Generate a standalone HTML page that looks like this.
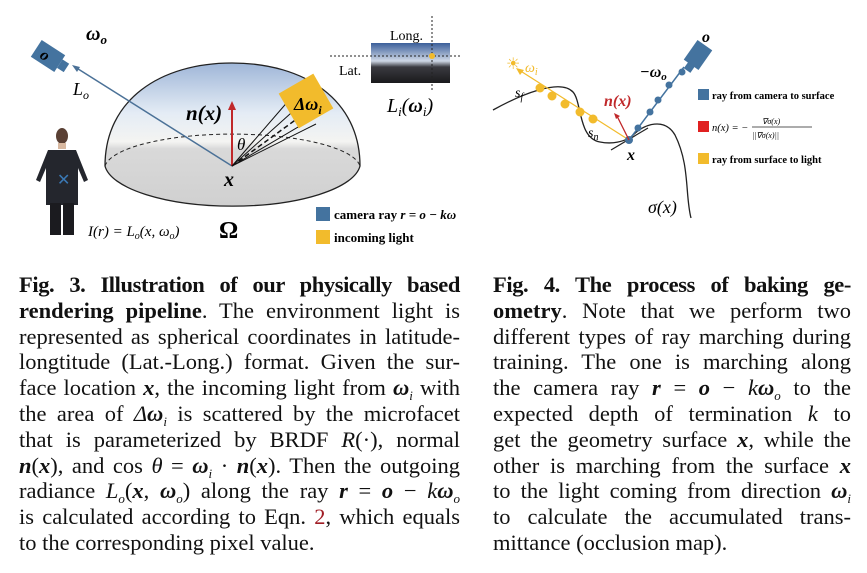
<!DOCTYPE html>
<html><head><meta charset="utf-8"><style>
body{margin:0;background:#fff;width:867px;height:573px;overflow:hidden;position:relative;font-family:"Liberation Serif",serif;color:#111}
.cap{position:absolute;font-size:22.5px;line-height:25.8px}
.cap div{height:25.8px;text-align:justify;text-align-last:justify;white-space:nowrap}
.cap div.last{text-align-last:left}
.cap div.b{letter-spacing:-0.4px}
.s{font-size:13px;position:relative;top:5px;line-height:0}
svg{position:absolute;left:0;top:0}
</style></head><body>
<svg width="867" height="260" viewBox="0 0 867 260" font-family="Liberation Serif, serif">
<defs>
<linearGradient id="sky" x1="0" y1="0" x2="0" y2="1">
<stop offset="0" stop-color="#9fb6d8"/><stop offset="0.35" stop-color="#e4ecf5"/><stop offset="0.55" stop-color="#f4f4f2"/><stop offset="0.6" stop-color="#d9d9d9"/><stop offset="1" stop-color="#d0d0d0"/></linearGradient>
<linearGradient id="env" x1="0" y1="0" x2="0" y2="1"><stop offset="0" stop-color="#3b5f9a"/><stop offset="0.45" stop-color="#cfd8e6"/><stop offset="0.6" stop-color="#3a3a40"/><stop offset="1" stop-color="#1a1a1c"/></linearGradient>
</defs>
<path d="M105,166 C105,100 160,63 232,63 C305,63 360,100 360,166 A128,44 0 0 1 105,166 Z" fill="url(#sky)" stroke="#222" stroke-width="1.3"/>
<path d="M105,166 A128,35 0 0 1 360,166" fill="none" stroke="#222" stroke-dasharray="4,3"/>
<line x1="232" y1="166" x2="75" y2="67" stroke="#4b7197" stroke-width="1.5"/>
<polygon points="72,65 80,67 77,72" fill="#4b7197"/>
<g transform="translate(48,56) rotate(33)"><rect x="-14" y="-10" width="28" height="20" fill="#44739f"/><rect x="14" y="-5" width="8" height="10" fill="#44739f"/><text x="-7" y="6" font-weight="bold" font-size="16" font-style="italic">o</text></g>
<text x="86" y="40" font-size="20" font-weight="bold" font-style="italic">ω<tspan font-size="13" dy="4">o</tspan></text>
<text x="73" y="95" font-size="18" font-style="italic">L<tspan font-size="12" dy="4">o</tspan></text>
<line x1="232" y1="166" x2="232" y2="108" stroke="#c0282a" stroke-width="2"/>
<polygon points="228,110 236,110 232,101" fill="#c0282a"/>
<text x="186" y="120" font-size="21" font-weight="bold" font-style="italic">n(x)</text>
<text x="237" y="150" font-size="17" font-style="italic">θ</text>
<g stroke="#111" stroke-width="1"><line x1="232" y1="166" x2="290" y2="99"/><line x1="232" y1="166" x2="300" y2="105"/><line x1="232" y1="166" x2="305" y2="113" stroke-dasharray="5,3" stroke-width="1.5"/><line x1="232" y1="166" x2="310" y2="120"/><line x1="232" y1="166" x2="316" y2="124"/></g>
<g transform="translate(306,101) rotate(-30)"><rect x="-20" y="-20" width="40" height="40" fill="#f2bb2c"/></g>
<text x="294" y="110" font-size="18" font-style="italic" font-weight="bold">Δω<tspan font-size="12" dy="4">i</tspan></text>
<text x="224" y="186" font-size="20" font-weight="bold" font-style="italic">x</text>
<text x="219" y="238" font-size="24" font-weight="bold">Ω</text>
<rect x="371" y="43" width="79" height="40" fill="url(#env)"/>
<line x1="432" y1="16" x2="432" y2="92" stroke="#222" stroke-dasharray="2,2"/>
<line x1="330" y1="56" x2="460" y2="56" stroke="#222" stroke-dasharray="2,2"/>
<circle cx="432" cy="56" r="3" fill="#f2bb2c"/>
<text x="390" y="40" font-size="14">Long.</text>
<text x="339" y="75" font-size="14">Lat.</text>
<text x="387" y="112" font-size="20" font-style="italic">L<tspan font-size="13" dy="4">i</tspan><tspan dy="-4">(</tspan><tspan font-weight="bold">ω</tspan><tspan font-size="13" dy="4">i</tspan><tspan dy="-4">)</tspan></text>
<ellipse cx="62" cy="136" rx="6" ry="8" fill="#5a4034"/>
<rect x="58" y="143" width="8" height="6" fill="#d8b8a0"/>
<path d="M48,150 L76,150 L88,180 L84,182 L78,168 L78,205 L46,205 L46,168 L40,182 L36,180 Z" fill="#24262d"/>
<rect x="50" y="203" width="11" height="32" fill="#1b1b1f"/><rect x="63" y="203" width="11" height="32" fill="#1b1b1f"/>
<text x="57" y="185" font-size="16" fill="#3a78b4">✕</text>
<text x="88" y="236" font-size="15" font-style="italic">I(r) = L<tspan font-size="10" dy="3">o</tspan><tspan dy="-3">(x, ω</tspan><tspan font-size="10" dy="3">o</tspan><tspan dy="-3">)</tspan></text>
<rect x="316" y="207" width="14" height="14" fill="#44739f"/>
<text x="334" y="219" font-size="13" font-weight="bold">camera ray <tspan font-style="italic">r = o − kω</tspan></text>
<rect x="316" y="230" width="14" height="14" fill="#f2bb2c"/>
<text x="334" y="242" font-size="13" font-weight="bold">incoming light</text>

<path d="M493,110 C520,95 560,78 573,92 C582,102 578,138 600,142 C615,145 625,140 630,138 C645,122 665,118 675,135 C690,165 685,195 691,218" fill="none" stroke="#222" stroke-width="1.3"/>
<line x1="611" y1="150" x2="648" y2="128" stroke="#222" stroke-width="1.2"/>
<line x1="629" y1="140" x2="519" y2="70" stroke="#f2bb2c" stroke-width="1.2"/>
<polygon points="516,68 524,70 520,75" fill="#f2bb2c"/>
<g fill="#f2bb2c"><circle cx="540" cy="88" r="4.5"/><circle cx="552" cy="96" r="4.5"/><circle cx="565" cy="104" r="4.5"/><circle cx="580" cy="112" r="4.5"/><circle cx="593" cy="119" r="4.5"/></g>
<text x="506" y="69" font-size="16" fill="#f2bb2c">☀</text>
<text x="525" y="72" font-size="14" fill="#f2bb2c" font-style="italic">ω<tspan font-size="10" dy="3">i</tspan></text>
<text x="515" y="97" font-size="14" font-style="italic">s<tspan font-size="10" dy="3">f</tspan></text>
<text x="588" y="137" font-size="14" font-style="italic">s<tspan font-size="10" dy="3">n</tspan></text>
<line x1="629" y1="140" x2="684" y2="67" stroke="#44739f" stroke-width="1.5"/>
<g fill="#44739f"><circle cx="629" cy="140" r="4"/><circle cx="638" cy="128" r="3.5"/><circle cx="650" cy="112" r="3.5"/><circle cx="658" cy="100" r="3.5"/><circle cx="669" cy="85" r="3.5"/><circle cx="682" cy="72" r="3.5"/></g>
<g transform="translate(698,55) rotate(-55)"><rect x="-12" y="-9" width="24" height="18" fill="#44739f"/><rect x="-19" y="-4" width="8" height="8" fill="#44739f"/></g>
<text x="702" y="42" font-size="16" font-weight="bold" font-style="italic">o</text>
<text x="640" y="77" font-size="16" font-weight="bold" font-style="italic">−ω<tspan font-size="11" dy="3">o</tspan></text>
<line x1="629" y1="140" x2="617" y2="116" stroke="#c0282a" stroke-width="1.3"/>
<polygon points="614,113 620,116 616,119" fill="#c0282a"/>
<text x="604" y="106" font-size="16" font-weight="bold" font-style="italic" fill="#c0282a">n(x)</text>
<text x="627" y="160" font-size="16" font-weight="bold" font-style="italic">x</text>
<text x="648" y="213" font-size="18" font-style="italic">σ(x)</text>
<rect x="698" y="89" width="11" height="11" fill="#44739f"/>
<text x="712" y="99" font-size="10.5" font-weight="bold">ray from camera to surface</text>
<rect x="698" y="121" width="11" height="11" fill="#e02020"/>
<text x="712" y="131" font-size="10.5" font-style="italic">n(x) = −</text>
<text x="762" y="124" font-size="8" font-style="italic">∇σ(x)</text>
<line x1="752" y1="127" x2="812" y2="127" stroke="#222" stroke-width="0.7"/>
<text x="752" y="138" font-size="8" font-style="italic">||∇σ(x)||</text>
<rect x="698" y="153" width="11" height="11" fill="#f2bb2c"/>
<text x="712" y="163" font-size="10.5" font-weight="bold">ray from surface to light</text>
</svg>

<div class="cap" style="left:19px;top:272px;width:441px">
<div class="b"><b>Fig. 3. Illustration of our physically based</b></div>
<div><b>rendering pipeline</b>. The environment light is</div>
<div>represented as spherical coordinates in latitude-</div>
<div>longtitude (Lat.-Long.) format. Given the sur-</div>
<div>face location <b><i>x</i></b>, the incoming light from <b><i>ω</i></b><i class="s">i</i> with</div>
<div>the area of <i>Δ</i><b><i>ω</i></b><i class="s">i</i> is scattered by the microfacet</div>
<div>that is parameterized by BRDF <i>R</i>(·), normal</div>
<div><b><i>n</i></b>(<b><i>x</i></b>), and cos <i>θ</i> = <b><i>ω</i></b><i class="s">i</i> · <b><i>n</i></b>(<b><i>x</i></b>). Then the outgoing</div>
<div>radiance <i>L</i><i class="s">o</i>(<b><i>x</i></b>, <b><i>ω</i></b><i class="s">o</i>) along the ray <b><i>r</i></b> = <b><i>o</i></b> − <i>k</i><b><i>ω</i></b><i class="s">o</i></div>
<div>is calculated according to Eqn. <span style="color:#a01c24">2</span>, which equals</div>
<div class="last">to the corresponding pixel value.</div>
</div>

<div class="cap" style="left:493px;top:272px;width:358px">
<div class="b"><b>Fig. 4. The process of baking ge-</b></div>
<div><b>ometry</b>. Note that we perform two</div>
<div>different types of ray marching during</div>
<div>training. The one is marching along</div>
<div>the camera ray <b><i>r</i></b> = <b><i>o</i></b> − <i>k</i><b><i>ω</i></b><i class="s">o</i> to the</div>
<div>expected depth of termination <i>k</i> to</div>
<div>get the geometry surface <b><i>x</i></b>, while the</div>
<div>other is marching from the surface <b><i>x</i></b></div>
<div>to the light coming from direction <b><i>ω</i></b><i class="s">i</i></div>
<div>to calculate the accumulated trans-</div>
<div class="last">mittance (occlusion map).</div>
</div>
</body></html>
